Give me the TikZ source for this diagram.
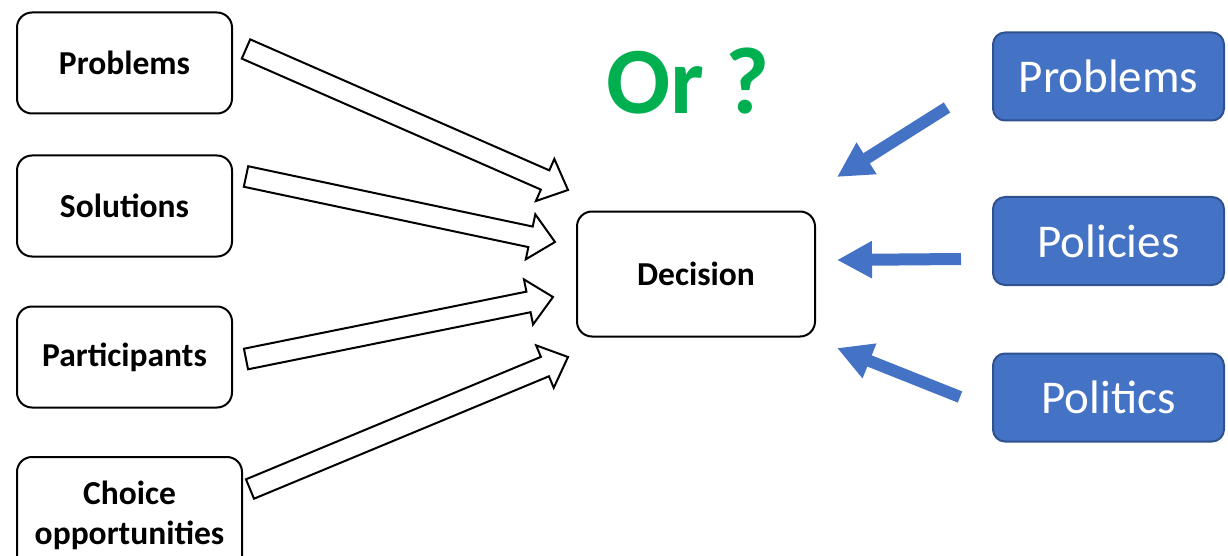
\documentclass[tikz,border=0pt]{standalone}
\usepackage{fontspec}
\setmainfont{Carlito}
\usetikzlibrary{calc,arrows.meta}
\definecolor{officeblue}{HTML}{4472C4}
\definecolor{darkblue}{HTML}{2F528F}
\definecolor{orgreen}{HTML}{00B050}

% outlined block arrow from tail #1 to tip #2
\newcommand{\hollowarrow}[2]{%
  \coordinate (#1b) at ($(#2)!25pt!(#1)$);
  \draw[hollow] ($(#1)!10.5pt!90:(#2)$) -- ($(#1b)!10.5pt!-90:(#1)$)
    -- ($(#1b)!23pt!-90:(#1)$) -- (#2) -- ($(#1b)!23pt!90:(#1)$)
    -- ($(#1b)!10.5pt!90:(#1)$) -- ($(#1)!10.5pt!-90:(#2)$) -- cycle;
}

\begin{document}
\begin{tikzpicture}
        [x=1pt, y=-1pt,
        box/.style={draw, line width=2pt, rounded corners=15pt, fill=white, align=center,
          minimum width=215pt, minimum height=101pt, font=\fontsize{33.5}{40}\selectfont\bfseries},
        bluebox/.style={draw=darkblue, line width=2pt, rounded corners=12pt, fill=officeblue,
          text=white, minimum width=231pt, minimum height=88pt, font=\fontsize{47}{56}\selectfont},
        hollow/.style={draw, line width=2pt, fill=white, line join=miter},
        bluearrow/.style={officeblue, line width=12pt, -{Triangle[length=35pt, width=35pt]}}]

        \path[use as bounding box, clip] (0,0) rectangle (1228,556);

        \node[box] (p) at (124.5,63) {Problems};
        \node[box] (s) at (124.5,206) {Solutions};
        \node[box] (pa) at (124.5,357) {Participants};
        \node[box, minimum width=225pt, minimum height=116pt] (c) at (129.5,515) {Choice\\opportunities};
        \node[box, minimum width=238pt, minimum height=125pt] (d) at (696,274) {Decision};

        \node[text=orgreen, font=\fontsize{95}{100}\selectfont\bfseries] (or) at (688,81) {Or ?};

        \node[bluebox] (bp) at (1108.5,76.5) {Problems};
        \node[bluebox] (bpo) at (1108.5,241) {Policies};
        \node[bluebox] (bpl) at (1108.5,397.5) {Politics};

        % ends of the outlined arrows
        \coordinate (tp) at (246,49);
        \coordinate (hp) at (568,190);
        \coordinate (ts) at (246,176.5);
        \coordinate (hs) at (555,242);
        \coordinate (tpa) at (246,359);
        \coordinate (hpa) at (553,297);
        \coordinate (tc) at (250,489);
        \coordinate (hc) at (568,357);

        \hollowarrow{tp}{hp}
        \hollowarrow{ts}{hs}
        \hollowarrow{tpa}{hpa}
        \hollowarrow{tc}{hc}

        % ends of the blue arrows
        \coordinate (ep) at (837,177);
        \coordinate (epo) at (837,260);
        \coordinate (epl) at (837,348);

        \draw[bluearrow] ($(bp.west)+(-45,31)$) coordinate (sp) -- (ep);
        \draw[bluearrow] ($(bpo.west)+(-31,18)$) coordinate (spo) -- (epo);
        \draw[bluearrow] ($(bpl.west)+(-32,-0.5)$) coordinate (spl) -- (epl);

        \end{tikzpicture}
\end{document}
